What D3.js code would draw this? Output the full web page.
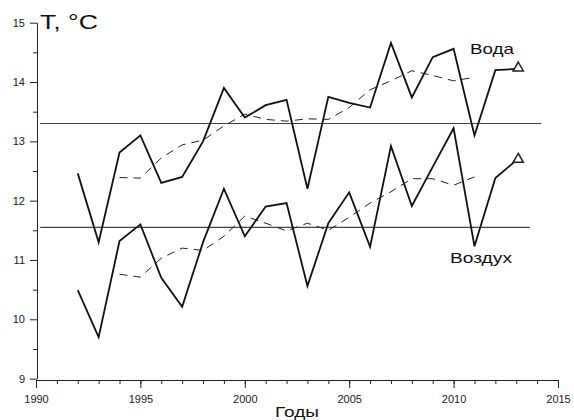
<!DOCTYPE html>
<html>
<head>
<meta charset="utf-8">
<script src="https://cdn.jsdelivr.net/npm/d3@7"></script>
<style>
body { margin: 0; background: #fff; }
svg { font-family: Arial, "Liberation Sans", sans-serif; }
.axis path, .axis line { stroke: #222; }
.axis text { fill: #222; font-size: 11px; }
</style>
</head>
<body>
<svg width="574" height="420"></svg>
<script>
// years of observation
var years = [1992, 1993, 1994, 1995, 1996, 1997, 1998, 1999, 2000, 2001, 2002,
             2003, 2004, 2005, 2006, 2007, 2008, 2009, 2010, 2011, 2012, 2013]
// water temperature
var water = [12.46, 11.30, 12.81, 13.10, 12.30, 12.40, 13.00, 13.90, 13.40, 13.61, 13.70,
             12.20, 13.75, 13.65, 13.57, 14.66, 13.74, 14.42, 14.56, 13.10, 14.20, 14.22]
// air temperature
var air = [10.49, 9.70, 11.32, 11.60, 10.70, 10.21, 11.30, 12.20, 11.40, 11.90, 11.96,
           10.56, 11.62, 12.14, 11.22, 12.92, 11.91, 12.57, 13.22, 11.23, 12.38, 12.68]
// smoothed curves (dashed)
var smoothYears = [1994, 1995, 1996, 1997, 1998, 1999, 2000, 2001, 2002, 2003, 2004,
                   2005, 2006, 2007, 2008, 2009, 2010, 2011]
var waterSmooth = [12.39, 12.38, 12.72, 12.94, 13.02, 13.26, 13.46, 13.37, 13.34, 13.38, 13.37,
                   13.57, 13.87, 14.02, 14.19, 14.11, 14.02, 14.08]
var airSmooth = [10.76, 10.71, 11.03, 11.20, 11.16, 11.40, 11.74, 11.62, 11.49, 11.62, 11.50,
                 11.72, 11.96, 12.15, 12.37, 12.37, 12.26, 12.40]
// long-term means: [from year, to year, value]
var waterMean = [1990.2, 2014.2, 13.30]
var airMean = [1990.2, 2013.65, 11.55]

var xTicks = [1990, 1995, 2000, 2005, 2010, 2015]
var yTicks = [9, 10, 11, 12, 13, 14, 15]

var svg = d3.select("svg")

var x = d3.scaleLinear()
          .domain([1990, 2015])
          .range([36, 558])
var y = d3.scaleLinear()
          .domain([9, 15])
          .range([378.6, 22.7])

// x axis
var xAxis = svg.append("g")
   .attr("class", "axis")
   .attr("transform", "translate(0,380)")
   .call(d3.axisBottom(x).tickValues(xTicks).tickFormat(d3.format("d"))
           .tickSize(8).tickSizeOuter(0).tickPadding(7))
xAxis.select(".domain").attr("d", "M" + x(1990) + ",0.5H" + x(2015))
svg.append("g")
   .attr("class", "axis")
   .attr("transform", "translate(0,380)")
   .call(d3.axisBottom(x).tickValues(d3.range(1991, 2015)).tickFormat("")
           .tickSize(4).tickSizeOuter(0))
   .select(".domain").remove()

// y axis
svg.append("g")
   .attr("class", "axis")
   .attr("transform", "translate(37,0)")
   .call(d3.axisLeft(y).tickValues(yTicks).tickFormat(d3.format("d"))
           .tickSize(7).tickSizeOuter(0).tickPadding(5))
svg.append("g")
   .attr("class", "axis")
   .attr("transform", "translate(37,0)")
   .call(d3.axisLeft(y).tickValues(d3.range(9.5, 15, 1)).tickFormat("")
           .tickSize(4).tickSizeOuter(0))
   .select(".domain").remove()

// mean lines
;[waterMean, airMean].forEach(function (m) {
	svg.append("line")
	   .attr("x1", x(m[0])).attr("x2", x(m[1]))
	   .attr("y1", y(m[2])).attr("y2", y(m[2]))
	   .attr("stroke", "#444").attr("stroke-width", 1.1)
})

var line = d3.line()
	.x(function (d) { return x(d[0]) })
	.y(function (d) { return y(d[1]) })

function zip(a, b) {
	return a.map(function (v, i) { return [v, b[i]] })
}

// dashed smoothed curves
;[waterSmooth, airSmooth].forEach(function (s) {
	svg.append("path")
	   .datum(zip(smoothYears, s))
	   .attr("d", line)
	   .attr("fill", "none")
	   .attr("stroke", "#222")
	   .attr("stroke-width", 1)
	   .attr("stroke-dasharray", "8,6")
})

// observed series
;[water, air].forEach(function (s) {
	svg.append("path")
	   .datum(zip(years, s))
	   .attr("d", line)
	   .attr("fill", "none")
	   .attr("stroke", "#111")
	   .attr("stroke-width", 1.8)
	   .attr("stroke-linejoin", "miter")
	// last value marker
	var last = years.length - 1
	svg.append("path")
	   .attr("d", d3.symbol().type(d3.symbolTriangle).size(45))
	   .attr("transform", "translate(" + (x(years[last]) + 2) + "," + (y(s[last]) - 1) + ")")
	   .attr("fill", "#fff")
	   .attr("stroke", "#222")
	   .attr("stroke-width", 1.5)
})

// labels (the source font is drawn wide, so stretch to measured widths)
function label(txt, lx, ly, size, len) {
	svg.append("text")
	   .attr("x", lx).attr("y", ly)
	   .attr("font-size", size).attr("fill", "#111")
	   .attr("textLength", len)
	   .attr("lengthAdjust", "spacingAndGlyphs")
	   .text(txt)
}
label("T, °C", 40, 28.5, 20, 58)
label("Вода", 470, 54, 14.5, 44)
label("Воздух", 450, 263, 14, 62)
label("Годы", 275, 417, 15, 44)
</script>
</body>
</html>
